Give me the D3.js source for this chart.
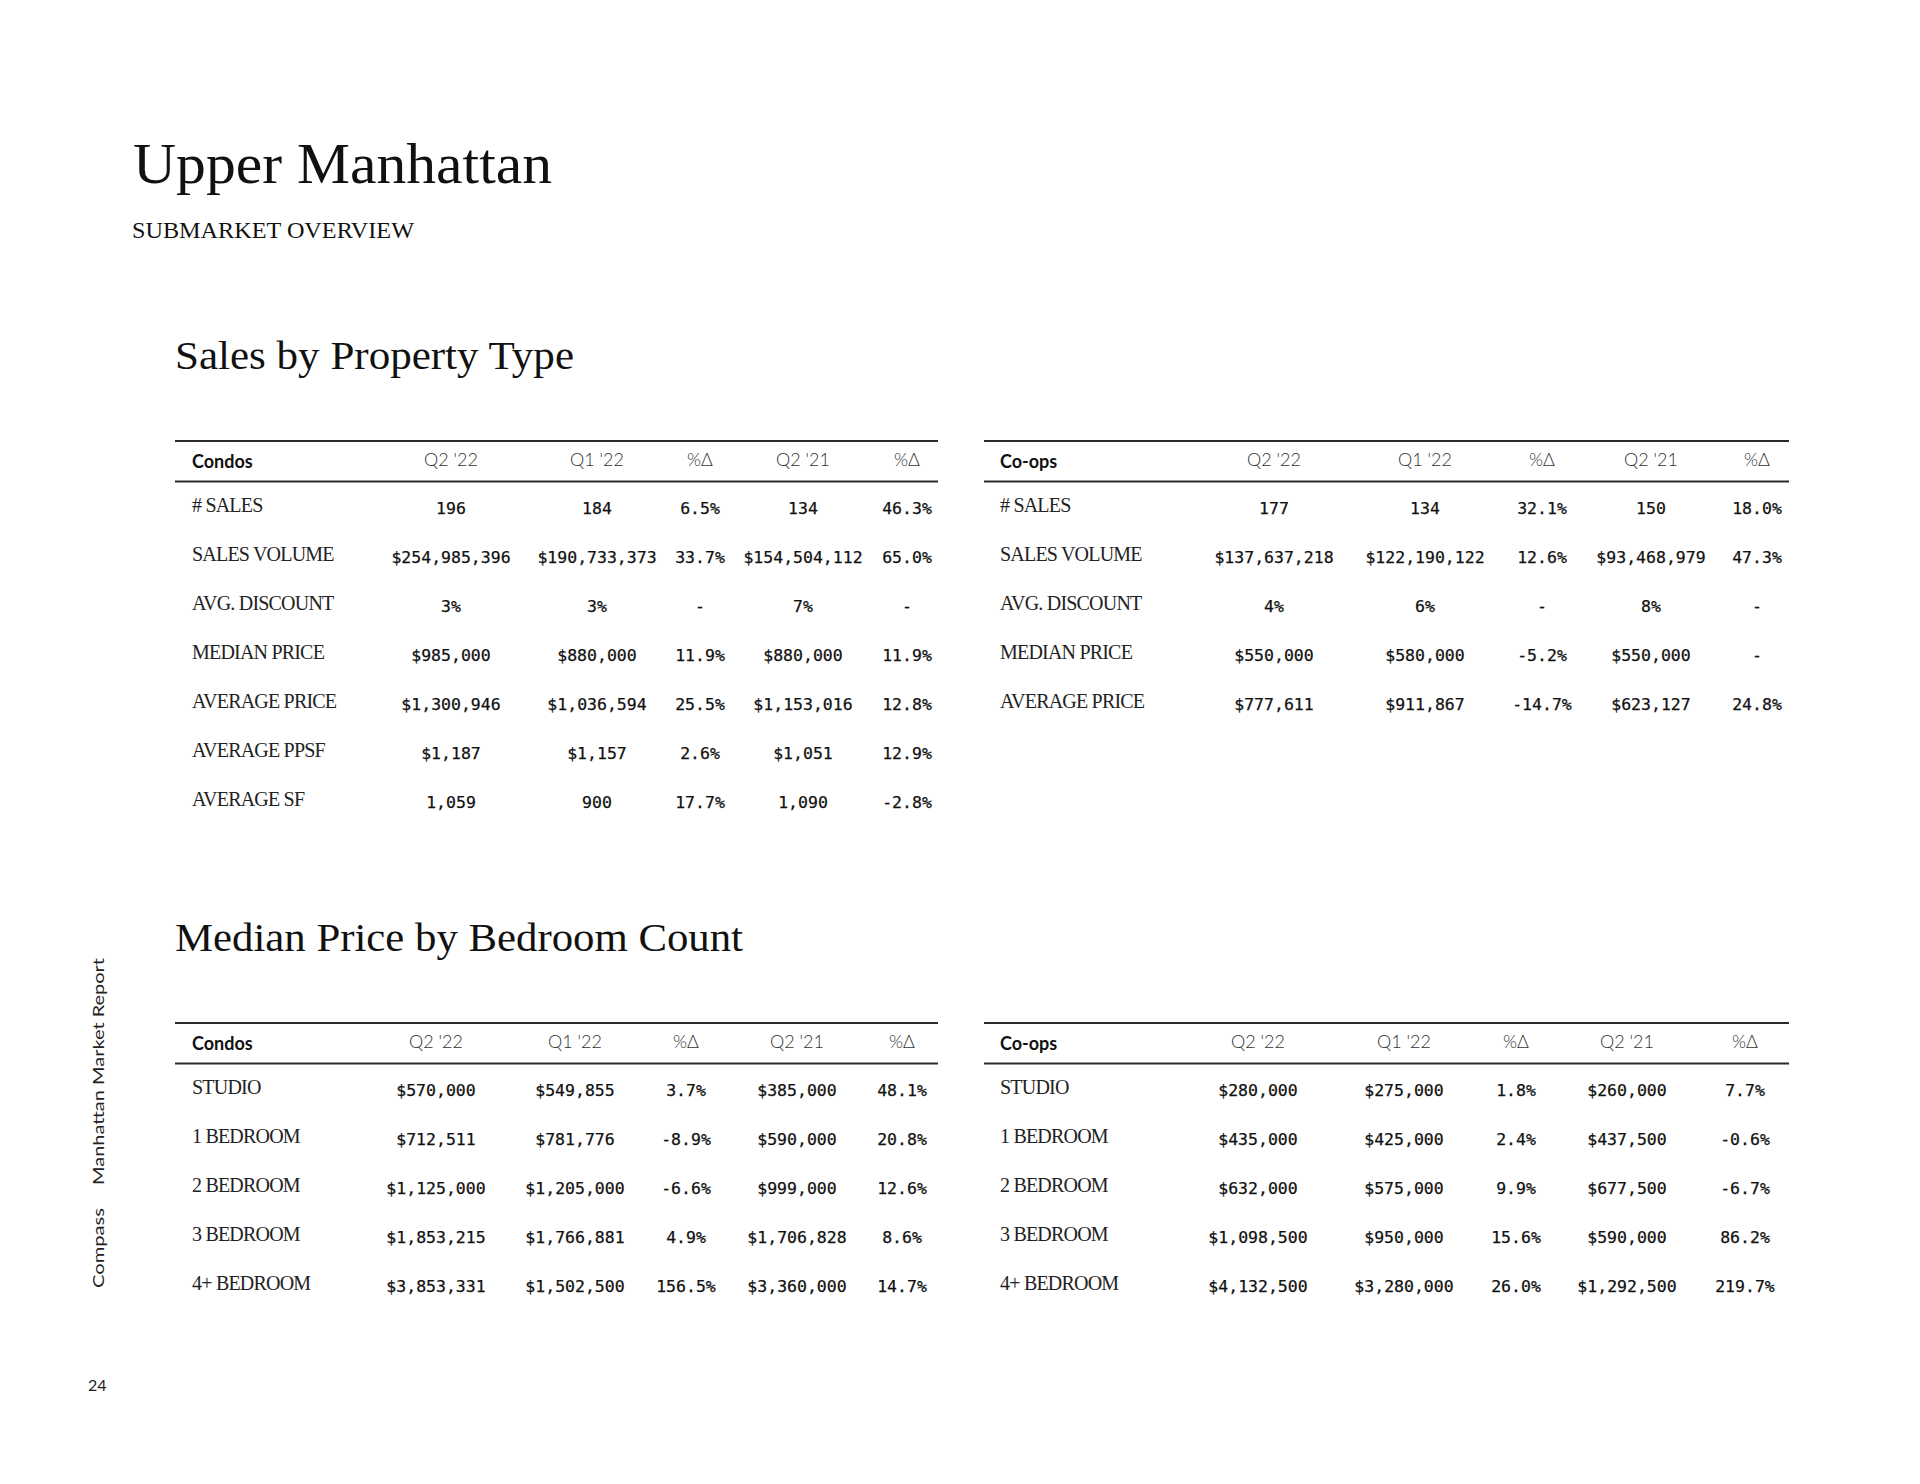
<!DOCTYPE html>
<html>
<head>
<meta charset="utf-8">
<script src="https://cdn.jsdelivr.net/npm/d3@7"></script>
<style>
  body { margin: 0; background: #fff; }
  svg { display: block; }
</style>
</head>
<body>
<div id="page"></div>
<script>
// ---- data ----
var salesColumns = ["Q2 '22", "Q1 '22", "%Δ", "Q2 '21", "%Δ"];
var condoSalesLabels = ["# SALES", "SALES VOLUME", "AVG. DISCOUNT", "MEDIAN PRICE", "AVERAGE PRICE", "AVERAGE PPSF", "AVERAGE SF"];
var coopSalesLabels = ["# SALES", "SALES VOLUME", "AVG. DISCOUNT", "MEDIAN PRICE", "AVERAGE PRICE"];
var bedroomLabels = ["STUDIO", "1 BEDROOM", "2 BEDROOM", "3 BEDROOM", "4+ BEDROOM"];

var condoSales = [
  ["196", "184", "6.5%", "134", "46.3%"],
  ["$254,985,396", "$190,733,373", "33.7%", "$154,504,112", "65.0%"],
  ["3%", "3%", "-", "7%", "-"],
  ["$985,000", "$880,000", "11.9%", "$880,000", "11.9%"],
  ["$1,300,946", "$1,036,594", "25.5%", "$1,153,016", "12.8%"],
  ["$1,187", "$1,157", "2.6%", "$1,051", "12.9%"],
  ["1,059", "900", "17.7%", "1,090", "-2.8%"]
];
var coopSales = [
  ["177", "134", "32.1%", "150", "18.0%"],
  ["$137,637,218", "$122,190,122", "12.6%", "$93,468,979", "47.3%"],
  ["4%", "6%", "-", "8%", "-"],
  ["$550,000", "$580,000", "-5.2%", "$550,000", "-"],
  ["$777,611", "$911,867", "-14.7%", "$623,127", "24.8%"]
];
var condoBedrooms = [
  ["$570,000", "$549,855", "3.7%", "$385,000", "48.1%"],
  ["$712,511", "$781,776", "-8.9%", "$590,000", "20.8%"],
  ["$1,125,000", "$1,205,000", "-6.6%", "$999,000", "12.6%"],
  ["$1,853,215", "$1,766,881", "4.9%", "$1,706,828", "8.6%"],
  ["$3,853,331", "$1,502,500", "156.5%", "$3,360,000", "14.7%"]
];
var coopBedrooms = [
  ["$280,000", "$275,000", "1.8%", "$260,000", "7.7%"],
  ["$435,000", "$425,000", "2.4%", "$437,500", "-0.6%"],
  ["$632,000", "$575,000", "9.9%", "$677,500", "-6.7%"],
  ["$1,098,500", "$950,000", "15.6%", "$590,000", "86.2%"],
  ["$4,132,500", "$3,280,000", "26.0%", "$1,292,500", "219.7%"]
];

var width = 1920, height = 1484;
var SERIF = "'Liberation Serif', 'DejaVu Serif', serif";
var SANS = "Lato, 'Open Sans', sans-serif";
var MONO = "'DejaVu Sans Mono', 'Liberation Mono', monospace";

var svg = d3.select("#page").append("svg")
  .attr("width", width)
  .attr("height", height)
  .style("background", "#fff");

// page titles
svg.append("text").attr("x", 133).attr("y", 183)
  .attr("font-family", SERIF).attr("font-size", 57).attr("fill", "#111")
  .attr("textLength", 419).attr("lengthAdjust", "spacingAndGlyphs")
  .text("Upper Manhattan");
svg.append("text").attr("x", 132).attr("y", 238)
  .attr("font-family", SERIF).attr("font-size", 23).attr("fill", "#111")
  .attr("textLength", 282).attr("lengthAdjust", "spacingAndGlyphs")
  .text("SUBMARKET OVERVIEW");
svg.append("text").attr("x", 175).attr("y", 369)
  .attr("font-family", SERIF).attr("font-size", 41).attr("fill", "#111")
  .attr("textLength", 399).attr("lengthAdjust", "spacingAndGlyphs")
  .text("Sales by Property Type");
svg.append("text").attr("x", 175).attr("y", 951)
  .attr("font-family", SERIF).attr("font-size", 41).attr("fill", "#111")
  .attr("textLength", 568).attr("lengthAdjust", "spacingAndGlyphs")
  .text("Median Price by Bedroom Count");

// side footer
svg.append("text")
  .attr("transform", "translate(104,1288) rotate(-90)")
  .attr("font-family", SANS).attr("font-size", 16).attr("fill", "#222")
  .attr("textLength", 80).attr("lengthAdjust", "spacingAndGlyphs")
  .text("Compass");
svg.append("text")
  .attr("transform", "translate(104,1185) rotate(-90)")
  .attr("font-family", SANS).attr("font-size", 16).attr("fill", "#222")
  .attr("textLength", 227).attr("lengthAdjust", "spacingAndGlyphs")
  .text("Manhattan Market Report");
svg.append("text").attr("x", 88).attr("y", 1391)
  .attr("font-family", SANS).attr("font-size", 16).attr("fill", "#222")
  .text("24");

function drawTable(opt) {
  var g = svg.append("g");
  var x = d3.scaleOrdinal().domain(d3.range(salesColumns.length)).range(opt.cols);
  var y = d3.scalePoint().domain(d3.range(opt.labels.length))
    .range([opt.top + 67, opt.top + 67 + (opt.labels.length - 1) * opt.step]);

  // rules
  g.selectAll("line.rule").data([opt.top, opt.top + 40.5]).enter().append("line")
    .attr("class", "rule")
    .attr("x1", opt.x0).attr("x2", opt.x1)
    .attr("y1", function(d) { return d; }).attr("y2", function(d) { return d; })
    .attr("stroke", "#2b2b2b").attr("stroke-width", 2.2);

  g.append("text").attr("x", opt.labelX).attr("y", opt.top + 27)
    .attr("font-family", SANS).attr("font-weight", 700).attr("font-size", 18)
    .attr("fill", "#111").text(opt.title);

  g.selectAll("text.colhead").data(salesColumns).enter().append("text")
    .attr("class", "colhead")
    .attr("x", function(d, i) { return x(i); })
    .attr("y", opt.top + 25)
    .attr("text-anchor", "middle")
    .attr("font-family", SANS).attr("font-weight", 300).attr("font-size", 18)
    .attr("fill", "#333")
    .text(function(d) { return d; });

  g.selectAll("text.rowlabel").data(opt.labels).enter().append("text")
    .attr("class", "rowlabel")
    .attr("x", opt.labelX)
    .attr("y", function(d, i) { return y(i) + 4; })
    .attr("font-family", SERIF).attr("font-size", 20)
    .attr("letter-spacing", -0.8)
    .attr("fill", "#222")
    .text(function(d) { return d; });

  var rows = g.selectAll("g.row").data(opt.values).enter().append("g")
    .attr("class", "row")
    .attr("transform", function(d, i) { return "translate(0," + (y(i) + 6) + ")"; });
  rows.selectAll("text").data(function(d) { return d; }).enter().append("text")
    .attr("x", function(d, i) { return x(i); })
    .attr("text-anchor", "middle")
    .attr("font-family", MONO).attr("font-size", 16.5)
    .attr("fill", "#111")
    .attr("stroke", "#111").attr("stroke-width", 0.25)
    .text(function(d) { return d; });
}

drawTable({ title: "Condos", labels: condoSalesLabels, values: condoSales,
  top: 441, step: 49, x0: 175, x1: 938, labelX: 192,
  cols: [451, 597, 700, 803, 907] });
drawTable({ title: "Co-ops", labels: coopSalesLabels, values: coopSales,
  top: 441, step: 49, x0: 984, x1: 1789, labelX: 1000,
  cols: [1274, 1425, 1542, 1651, 1757] });
drawTable({ title: "Condos", labels: bedroomLabels, values: condoBedrooms,
  top: 1023, step: 49, x0: 175, x1: 938, labelX: 192,
  cols: [436, 575, 686, 797, 902] });
drawTable({ title: "Co-ops", labels: bedroomLabels, values: coopBedrooms,
  top: 1023, step: 49, x0: 984, x1: 1789, labelX: 1000,
  cols: [1258, 1404, 1516, 1627, 1745] });
</script>
</body>
</html>
